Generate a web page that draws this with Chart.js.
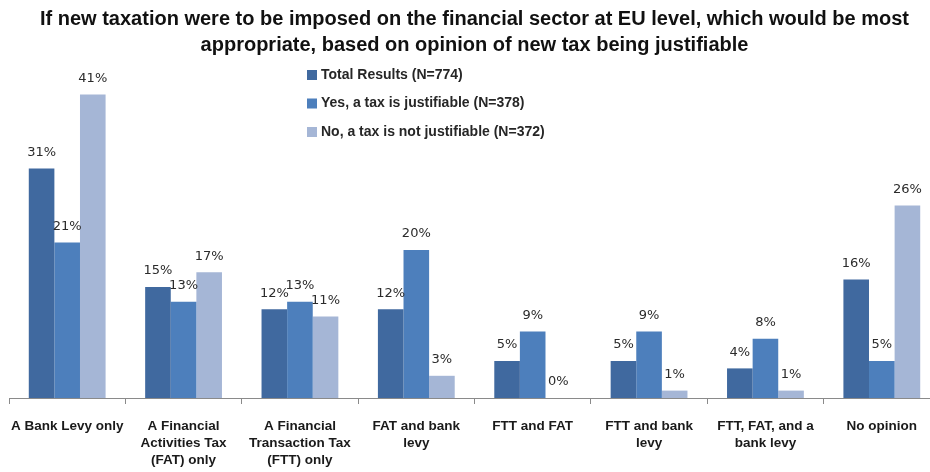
<!DOCTYPE html>
<html>
<head>
<meta charset="utf-8">
<script src="https://cdn.jsdelivr.net/npm/chart.js@4/dist/chart.umd.min.js"></script>
<style>
  html, body { margin: 0; padding: 0; background: #ffffff; width: 930px; height: 472px; overflow: hidden; }
  #wrap { position: relative; left: -5px; width: 946px; height: 472px; }
</style>
</head>
<body>
<div id="wrap"><canvas id="chart" width="946" height="472"></canvas></div>
<script>
// Survey answers by category (percent), one list per respondent group
const categories = [
  ["A Bank Levy only"],
  ["A Financial", "Activities Tax", "(FAT) only"],
  ["A Financial", "Transaction Tax", "(FTT) only"],
  ["FAT and bank", "levy"],
  ["FTT and FAT"],
  ["FTT and bank", "levy"],
  ["FTT, FAT, and a", "bank levy"],
  ["No opinion"]
];
const seriesNames = [
  "Total Results (N=774)",
  "Yes, a tax is justifiable (N=378)",
  "No, a tax is not justifiable (N=372)"
];
const totalResults      = [31, 15, 12, 12, 5, 5, 4, 16];
const taxJustifiable    = [21, 13, 13, 20, 9, 9, 8, 5];
const taxNotJustifiable = [41, 17, 11, 3, 0, 1, 1, 26];
const titleLines = [
  "If new taxation were to be imposed on the financial sector at EU level, which would be most",
  "appropriate, based on opinion of new tax being justifiable"
];

const seriesColors = ["#40699f", "#4d7fbc", "#a5b6d6"];
const FONT = "'Liberation Sans', Arial, sans-serif";
const LABEL_FONT = "'DejaVu Sans', Verdana, sans-serif";

// Percent value written above each bar
const barValueLabels = {
  id: 'barValueLabels',
  afterDatasetsDraw(chart) {
    const ctx = chart.ctx;
    ctx.save();
    ctx.font = "13px " + LABEL_FONT;
    ctx.fillStyle = "#2b2b2b";
    ctx.textAlign = "center";
    ctx.textBaseline = "middle";
    chart.data.datasets.forEach((ds, i) => {
      chart.getDatasetMeta(i).data.forEach((bar, j) => {
        ctx.fillText(ds.data[j] + "%", bar.x, bar.y - 16);
      });
    });
    ctx.restore();
  }
};

// Stacked legend placed inside the plot, above the middle groups
const innerLegend = {
  id: 'innerLegend',
  afterDraw(chart) {
    const ctx = chart.ctx;
    ctx.save();
    ctx.font = "bold 14px " + FONT;
    ctx.textBaseline = "middle";
    ctx.textAlign = "left";
    chart.data.datasets.forEach((ds, i) => {
      const y = 75 + i * 28.5;
      ctx.fillStyle = ds.backgroundColor;
      ctx.fillRect(312, y - 5, 10, 10);
      ctx.fillStyle = "#262626";
      ctx.fillText(ds.label, 326, y);
    });
    ctx.restore();
  }
};

new Chart(document.getElementById("chart"), {
  type: "bar",
  data: {
    labels: categories,
    datasets: [
      { label: seriesNames[0], data: totalResults,      backgroundColor: seriesColors[0] },
      { label: seriesNames[1], data: taxJustifiable,    backgroundColor: seriesColors[1] },
      { label: seriesNames[2], data: taxNotJustifiable, backgroundColor: seriesColors[2] }
    ]
  },
  options: {
    responsive: false,
    animation: false,
    devicePixelRatio: 1,
    categoryPercentage: 0.66,
    barPercentage: 1.0,
    layout: { padding: { left: 14, right: 1, top: 0, bottom: -11 } },
    plugins: {
      legend: { display: false },
      tooltip: { enabled: false },
      title: {
        display: true,
        text: titleLines,
        color: "#111111",
        font: { family: FONT, size: 20, weight: "bold", lineHeight: 1.3 },
        padding: { top: 6, bottom: 7 }
      }
    },
    scales: {
      x: {
        grid: { display: true, drawOnChartArea: false, drawTicks: true, tickLength: 6, color: "#8a8a8a", offset: true },
        border: { display: true, color: "#8a8a8a" },
        ticks: {
          color: "#1a1a1a",
          font: { family: FONT, size: 13.5, weight: "bold", lineHeight: "17px" },
          padding: 14,
          maxRotation: 0,
          autoSkip: false
        }
      },
      y: { display: false, min: 0, max: 45 }
    }
  },
  plugins: [barValueLabels, innerLegend]
});
</script>
</body>
</html>
